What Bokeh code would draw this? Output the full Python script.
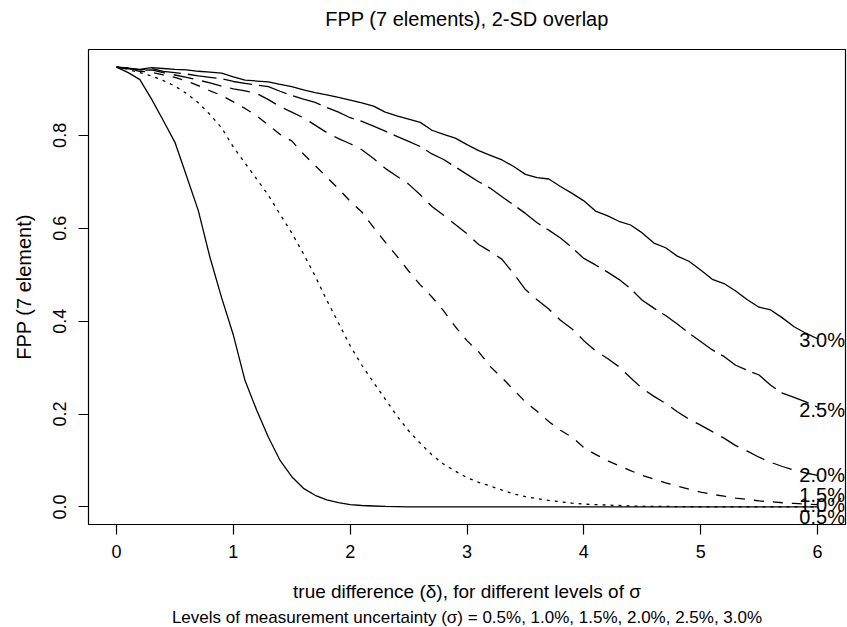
from bokeh.plotting import figure
from bokeh.models import Range1d, FixedTicker, PrintfTickFormatter, Title, ColumnDataSource
from bokeh.core.properties import value
from bokeh.embed import file_html
from bokeh.resources import INLINE

delta = [0.0, 0.1, 0.2, 0.3, 0.4, 0.5, 0.6, 0.7, 0.8, 0.9,
         1.0, 1.1, 1.2, 1.3, 1.4, 1.5, 1.6, 1.7, 1.8, 1.9,
         2.0, 2.1, 2.2, 2.3, 2.4, 2.5, 2.6, 2.7, 2.8, 2.9,
         3.0, 3.1, 3.2, 3.3, 3.4, 3.5, 3.6, 3.7, 3.8, 3.9,
         4.0, 4.1, 4.2, 4.3, 4.4, 4.5, 4.6, 4.7, 4.8, 4.9,
         5.0, 5.1, 5.2, 5.3, 5.4, 5.5, 5.6, 5.7, 5.8, 5.9, 6.0]

fpp_05 = [0.947, 0.935, 0.920, 0.878, 0.832, 0.785, 0.712, 0.638, 0.537, 0.450,
          0.370, 0.272, 0.208, 0.150, 0.100, 0.065, 0.040, 0.025, 0.015, 0.009,
          0.005, 0.003, 0.002, 0.001, 0.0005, 0, 0, 0, 0, 0,
          0, 0, 0, 0, 0, 0, 0, 0, 0, 0,
          0, 0, 0, 0, 0, 0, 0, 0, 0, 0,
          0, 0, 0, 0, 0, 0, 0, 0, 0, 0, 0]

fpp_10 = [0.947, 0.942, 0.935, 0.928, 0.918, 0.906, 0.890, 0.870, 0.845, 0.816,
          0.775, 0.740, 0.706, 0.671, 0.630, 0.590, 0.545, 0.497, 0.445, 0.396,
          0.347, 0.305, 0.268, 0.232, 0.196, 0.164, 0.137, 0.112, 0.092, 0.077,
          0.063, 0.053, 0.045, 0.036, 0.028, 0.022, 0.018, 0.014, 0.011, 0.008,
          0.006, 0.005, 0.004, 0.003, 0.002, 0.0015, 0.001, 0.001, 0.0005, 0.0005,
          0, 0, 0, 0, 0, 0, 0, 0, 0, 0, 0]

fpp_15 = [0.947, 0.943, 0.938, 0.936, 0.930, 0.925, 0.917, 0.907, 0.896, 0.886,
          0.872, 0.858, 0.842, 0.822, 0.802, 0.788, 0.760, 0.735, 0.710, 0.685,
          0.658, 0.635, 0.602, 0.570, 0.540, 0.508, 0.478, 0.452, 0.422, 0.388,
          0.358, 0.334, 0.302, 0.278, 0.252, 0.226, 0.206, 0.184, 0.165, 0.150,
          0.128, 0.113, 0.100, 0.089, 0.078, 0.068, 0.060, 0.052, 0.045, 0.038,
          0.032, 0.027, 0.023, 0.019, 0.016, 0.013, 0.011, 0.009, 0.0075, 0.006, 0.005]

fpp_20 = [0.947, 0.944, 0.940, 0.941, 0.935, 0.930, 0.925, 0.919, 0.913, 0.906,
          0.900, 0.896, 0.890, 0.877, 0.862, 0.850, 0.838, 0.822, 0.806, 0.793,
          0.782, 0.769, 0.750, 0.729, 0.712, 0.695, 0.672, 0.647, 0.628, 0.608,
          0.588, 0.565, 0.550, 0.533, 0.502, 0.468, 0.446, 0.426, 0.402, 0.383,
          0.358, 0.336, 0.320, 0.302, 0.278, 0.255, 0.238, 0.223, 0.205, 0.189,
          0.176, 0.162, 0.148, 0.132, 0.120, 0.107, 0.096, 0.087, 0.079, 0.073, 0.068]

fpp_25 = [0.947, 0.944, 0.941, 0.944, 0.938, 0.935, 0.932, 0.928, 0.925, 0.922,
          0.916, 0.912, 0.908, 0.905, 0.895, 0.886, 0.878, 0.871, 0.860, 0.850,
          0.838, 0.830, 0.820, 0.809, 0.798, 0.787, 0.776, 0.760, 0.748, 0.732,
          0.716, 0.700, 0.686, 0.668, 0.650, 0.632, 0.612, 0.596, 0.579, 0.558,
          0.535, 0.521, 0.506, 0.490, 0.470, 0.445, 0.428, 0.412, 0.394, 0.374,
          0.356, 0.338, 0.324, 0.305, 0.294, 0.284, 0.262, 0.245, 0.236, 0.226, 0.215]

fpp_30 = [0.947, 0.945, 0.942, 0.946, 0.944, 0.942, 0.941, 0.938, 0.936, 0.934,
          0.926, 0.919, 0.917, 0.915, 0.910, 0.905, 0.898, 0.892, 0.887, 0.882,
          0.876, 0.870, 0.863, 0.850, 0.842, 0.835, 0.828, 0.811, 0.802, 0.794,
          0.780, 0.767, 0.757, 0.747, 0.733, 0.716, 0.709, 0.706, 0.690, 0.675,
          0.659, 0.637, 0.627, 0.615, 0.607, 0.590, 0.568, 0.558, 0.540, 0.529,
          0.510, 0.490, 0.481, 0.465, 0.446, 0.430, 0.424, 0.407, 0.388, 0.374, 0.362]

series = [fpp_05, fpp_10, fpp_15, fpp_20, fpp_25, fpp_30]
dashes = ["solid", "3 5", "10 9", "20 9", "29 7", "solid"]

curve_labels = ["0.5%", "1.0%", "1.5%", "2.0%", "2.5%", "3.0%"]
label_y = [-0.022, 0.004, 0.025, 0.068, 0.208, 0.360]
label_x = [6.04, 6.04, 6.04, 6.04, 6.04, 6.04]

x_ticks = [0, 1, 2, 3, 4, 5, 6]
y_ticks = [0.0, 0.2, 0.4, 0.6, 0.8]

FONT = "Liberation Sans"

# R-style 4% axis extension
xmin, xmax = min(delta), max(delta)
all_y = [v for s in series for v in s]
ymin, ymax = min(all_y), max(all_y)
xpad = 0.04 * (xmax - xmin)
ypad = 0.04 * (ymax - ymin)

p = figure(width=847, height=627, output_backend="svg", toolbar_location=None,
           x_range=Range1d(xmin - xpad, xmax + xpad),
           y_range=Range1d(ymin - ypad, ymax + ypad),
           min_border_left=88, min_border_right=2, min_border_top=49, min_border_bottom=103,
           background_fill_color="white", border_fill_color="white")

# trailing blank line lifts the title higher inside the fixed top margin
p.title.text = "FPP (7 elements), 2-SD overlap\n"
p.title.align = "center"
p.title.vertical_align = "bottom"
p.title.text_font = FONT
p.title.text_font_size = "20px"
p.title.text_line_height = 0.66
p.title.text_font_style = "normal"
p.title.text_color = "black"
p.title.standoff = 10

p.grid.visible = False
p.outline_line_color = "black"
p.outline_line_width = 1.2

for ax in (p.xaxis[0], p.yaxis[0]):
    ax.axis_line_color = None
    ax.major_tick_line_color = "black"
    ax.major_tick_line_width = 1.2
    ax.major_tick_out = 10
    ax.major_tick_in = 0
    ax.minor_tick_line_color = None
    ax.major_label_text_font = FONT
    ax.major_label_text_font_size = "18px"
    ax.major_label_text_color = "black"
    ax.axis_label_text_font = FONT
    ax.axis_label_text_font_style = "normal"
    ax.axis_label_text_color = "black"

p.xaxis.ticker = FixedTicker(ticks=x_ticks)
p.xaxis.formatter = PrintfTickFormatter(format="%d")
p.xaxis.major_label_standoff = 10
p.xaxis.axis_label = "true difference (\u03b4), for different levels of \u03c3"
p.xaxis.axis_label_text_font_size = "19px"
p.xaxis.axis_label_standoff = 20

p.yaxis.ticker = FixedTicker(ticks=y_ticks)
p.yaxis.formatter = PrintfTickFormatter(format="%.1f")
p.yaxis.major_label_orientation = "vertical"
p.yaxis.major_label_standoff = 12
p.yaxis.axis_label = "FPP (7 element)"
p.yaxis.axis_label_text_font_size = "20px"
p.yaxis.axis_label_standoff = 16

sub = Title(text="Levels of measurement uncertainty (\u03c3) = 0.5%, 1.0%, 1.5%, 2.0%, 2.5%, 3.0%",
            align="center", text_font=FONT, text_font_size="17px",
            text_font_style="normal", text_color="black", standoff=2)
p.add_layout(sub, "below")

for s, d in zip(series, dashes):
    p.line(delta, s, line_color="black", line_width=1.3, line_dash=d)

lab_src = ColumnDataSource(dict(x=label_x, y=label_y, t=curve_labels))
p.text(x="x", y="y", text="t", source=lab_src, text_font=value(FONT),
       text_font_size="20px", text_align="center", text_baseline="middle",
       text_color="black")

open("out.html", "w").write(file_html(p, INLINE))
